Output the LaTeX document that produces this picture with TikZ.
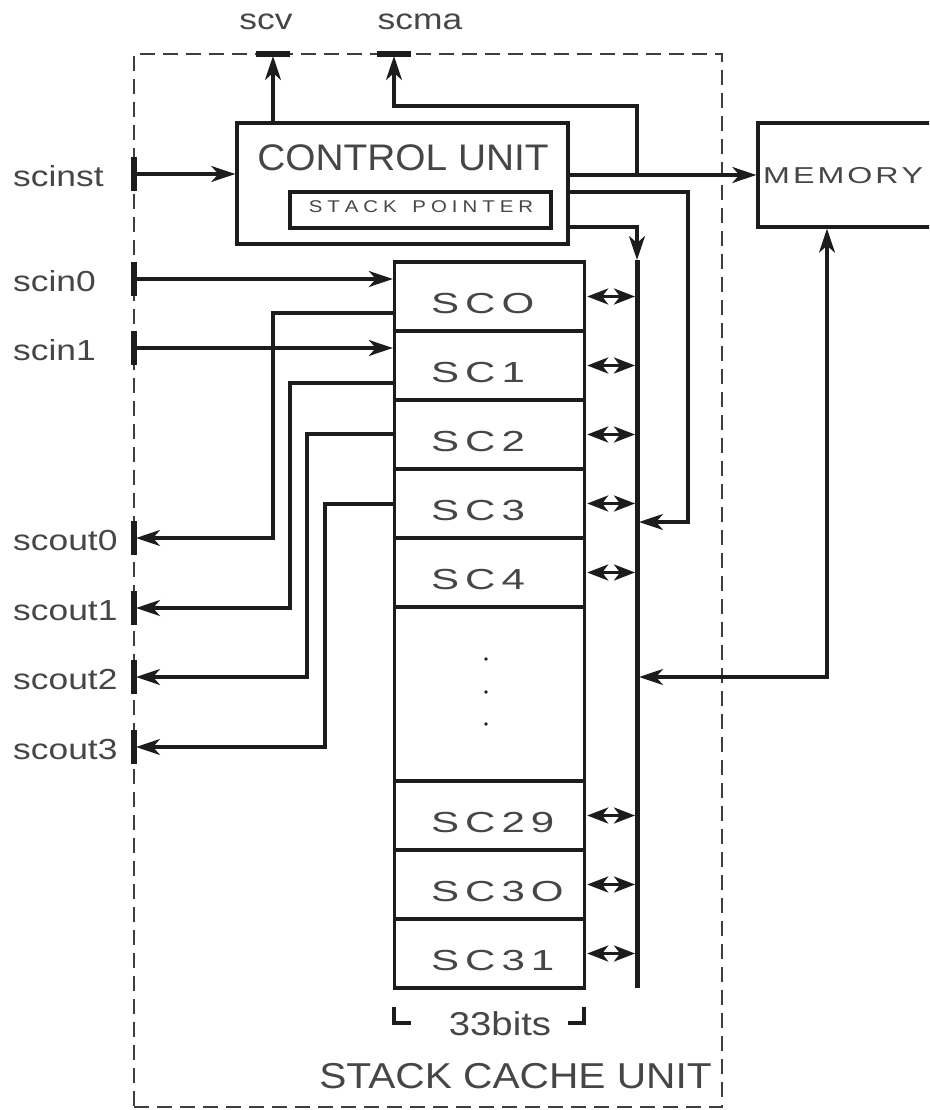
\documentclass[tikz,border=0pt]{standalone}
\usepackage{fontspec}
\setmainfont{Liberation Sans}
\newfontfamily\lblfont[FakeStretch=1.22]{Liberation Sans}
\newfontfamily\cufont[FakeStretch=1.05]{Liberation Sans}
\newfontfamily\bitsfont[FakeStretch=1.16]{Liberation Sans}
\newfontfamily\scufont[FakeStretch=1.13]{Liberation Sans}
\newfontfamily\cellfont[FakeStretch=1.45]{Liberation Sans}
\newfontfamily\memfont[FakeStretch=1.4]{Liberation Sans}
\newfontfamily\spfont[FakeStretch=1.2]{Liberation Sans}
\usetikzlibrary{arrows.meta}
\definecolor{txt}{RGB}{70,70,70}
\definecolor{ln}{RGB}{28,28,28}
\newcommand\lgap{\kern6pt}
\newcommand\mgap{\kern3pt}
\newcommand\pgap{\kern5pt}
\tikzset{
  wire/.style={draw=ln, line width=3.2pt},
  tipL/.tip={Stealth[length=24pt,width=16pt,inset=7pt]},
  tipS/.tip={Stealth[length=21pt,width=16pt,inset=6pt]},
  arr/.style={wire, -tipL},
  barr/.style={wire, tipL-tipL},
  sarr/.style={wire, tipS-tipS},
  porttick/.style={draw=ln, line width=6pt},
  blk/.style={draw=ln, line width=3.4pt, inner sep=0pt, rectangle},
  cell/.style={blk, minimum width=190pt, minimum height=69pt},
  lbl/.style={text=txt, inner sep=0pt, anchor=base west, font=\lblfont\fontsize{29pt}{29pt}\selectfont},
  toplbl/.style={lbl, anchor=base},
  celllbl/.style={text=txt, inner sep=0pt, anchor=base west, font=\cellfont\fontsize{29pt}{29pt}\selectfont},
  frm/.style={draw=ln!85, line width=1.6pt, dash pattern=on 15pt off 8pt},
}
\begin{document}
\begin{tikzpicture}[x=1pt,y=-1pt]
\useasboundingbox (0,0) rectangle (929,1110);
\clip (0,0) rectangle (929,1110);

% dashed frame
\node[frm, rectangle, minimum width=588pt, minimum height=1053pt, inner sep=0pt] (frame) at (428,580.5) {};
\node[text=txt, inner sep=0pt, anchor=base east, font=\scufont\fontsize{36pt}{36pt}\selectfont] (scu) at (712,1088) {STACK CACHE UNIT};

% control unit
\node[blk, minimum width=331pt, minimum height=121pt] (cu) at (402.5,183.5) {};
\node[text=txt, inner sep=0pt, anchor=base, font=\cufont\fontsize{37pt}{37pt}\selectfont] (cut) at (403,171) {CONTROL UNIT};
\node[blk, minimum width=261pt, minimum height=36pt] (sp) at (420.5,210) {};
\node[text=txt, inner sep=0pt, anchor=base, font=\spfont\fontsize{17pt}{17pt}\selectfont] (spt) at (421,212)
  {S\pgap T\pgap A\pgap C\pgap K\pgap{} \pgap P\pgap O\pgap I\pgap N\pgap T\pgap E\pgap R};

% memory
\node[blk, minimum width=182pt, minimum height=104pt] (mem) at (849,175) {};
\node[text=txt, inner sep=0pt, anchor=base west, font=\memfont\fontsize{23pt}{23pt}\selectfont] (memt) at (763,184)
  {M\mgap E\mgap M\mgap O\mgap R\mgap Y};

% stack cells
\node[cell] (c0) at (489.5,296.5) {};
\node[cell] (c1) at (489.5,365.5) {};
\node[cell] (c2) at (489.5,434.5) {};
\node[cell] (c3) at (489.5,503.5) {};
\node[cell] (c4) at (489.5,572.5) {};
\node[blk, minimum width=190pt, minimum height=174pt] (cd) at (489.5,694) {};
\node[cell] (c29) at (489.5,815.5) {};
\node[cell] (c30) at (489.5,884.5) {};
\node[cell] (c31) at (489.5,953.5) {};
\node[celllbl] (l0) at (431,313) {S\lgap C\lgap O};
\node[celllbl] (l1) at (431,382) {S\lgap C\lgap 1};
\node[celllbl] (l2) at (431,451) {S\lgap C\lgap 2};
\node[celllbl] (l3) at (431,520) {S\lgap C\lgap 3};
\node[celllbl] (l4) at (431,589) {S\lgap C\lgap 4};
\node[celllbl] (l29) at (431,832) {S\lgap C\lgap 2\lgap 9};
\node[celllbl] (l30) at (431,901) {S\lgap C\lgap 3\lgap O};
\node[celllbl] (l31) at (431,970) {S\lgap C\lgap 3\lgap 1};
\fill[ln] (486,659) circle (1.8pt);
\fill[ln] (486,692) circle (1.8pt);
\fill[ln] (486,724) circle (1.8pt);

% 33bits bracket
\draw[draw=ln, line width=3.4pt] (394,1007) -- (394,1023) -- (411,1023);
\draw[draw=ln, line width=3.4pt] (584,1007) -- (584,1023) -- (568,1023);
\node[text=txt, inner sep=0pt, anchor=base, font=\bitsfont\fontsize{33pt}{33pt}\selectfont] (bits) at (500,1035) {33bits};

% bus
\coordinate (bustop) at (637,260);
\coordinate (busbot) at (637,988);
\draw[draw=ln, line width=5pt] (bustop) -- (busbot);
\foreach \c in {c0,c1,c2,c3,c4,c29,c30,c31}{
  \draw[sarr, shorten >=2pt, shorten <=1pt] (\c.east) -- (\c.east -| bustop);
}

% ports
\coordinate (pscv) at (273,54);
\coordinate (pscma) at (394,54);
\coordinate (pinst) at (134,174);
\coordinate (pin0) at (134,279);
\coordinate (pin1) at (134,348);
\coordinate (po0) at (134,538);
\coordinate (po1) at (134,608);
\coordinate (po2) at (134,677);
\coordinate (po3) at (134,747);
\foreach \p in {pscv,pscma}{
  \draw[porttick] ([xshift=-17pt]\p) -- ([xshift=17pt]\p);
}
\foreach \p in {pinst,pin0,pin1,po0,po1,po2,po3}{
  \draw[porttick] ([yshift=-17pt]\p) -- ([yshift=17pt]\p);
}

% port labels
\node[toplbl] (lscv) at (266,30) {scv};
\node[toplbl] (lscma) at (420,30) {scma};
\node[lbl] (linst) at (13,186) {scinst};
\node[lbl] (lin0) at (13,291) {scin0};
\node[lbl] (lin1) at (13,360) {scin1};
\node[lbl] (lo0) at (13,550) {scout0};
\node[lbl] (lo1) at (13,620) {scout1};
\node[lbl] (lo2) at (13,689) {scout2};
\node[lbl] (lo3) at (13,759) {scout3};

% control unit connections
\draw[arr, shorten >=2pt] (cu.north -| pscv) -- (pscv);
\draw[arr] (pinst) -- (cu.west |- pinst);
\coordinate (j1) at (637,175);
\coordinate (k1) at (637,106);
\draw[arr] (cu.east |- j1) -- (mem.west |- j1);
\draw[arr, shorten >=2pt] (j1) -- (k1) -| (pscma);
\coordinate (r2) at (688,192);
\coordinate (r2b) at (688,522);
\draw[arr, shorten >=2pt] (cu.east |- r2) -- (r2) -- (r2b) -- (bustop |- r2b);
\coordinate (b3) at (637,227);
\draw[arr] (cu.east |- b3) -- (b3) -- (bustop);
\coordinate (m1) at (827,677);
\draw[barr, shorten <=2pt] (bustop |- m1) -- (m1) -- (mem.south -| m1);

% inputs
\draw[arr] (pin0) -- (c0.west |- pin0);
\draw[arr] (pin1) -- (c1.west |- pin1);

% outputs
\coordinate (o0) at (273,313);
\coordinate (o1) at (290,383);
\coordinate (o2) at (307,434);
\coordinate (o3) at (325,504);
\draw[arr, shorten >=2pt] (c0.west |- o0) -- (o0) |- (po0);
\draw[arr, shorten >=2pt] (c1.west |- o1) -- (o1) |- (po1);
\draw[arr, shorten >=2pt] (c2.west |- o2) -- (o2) |- (po2);
\draw[arr, shorten >=2pt] (c3.west |- o3) -- (o3) |- (po3);
\end{tikzpicture}
\end{document}
